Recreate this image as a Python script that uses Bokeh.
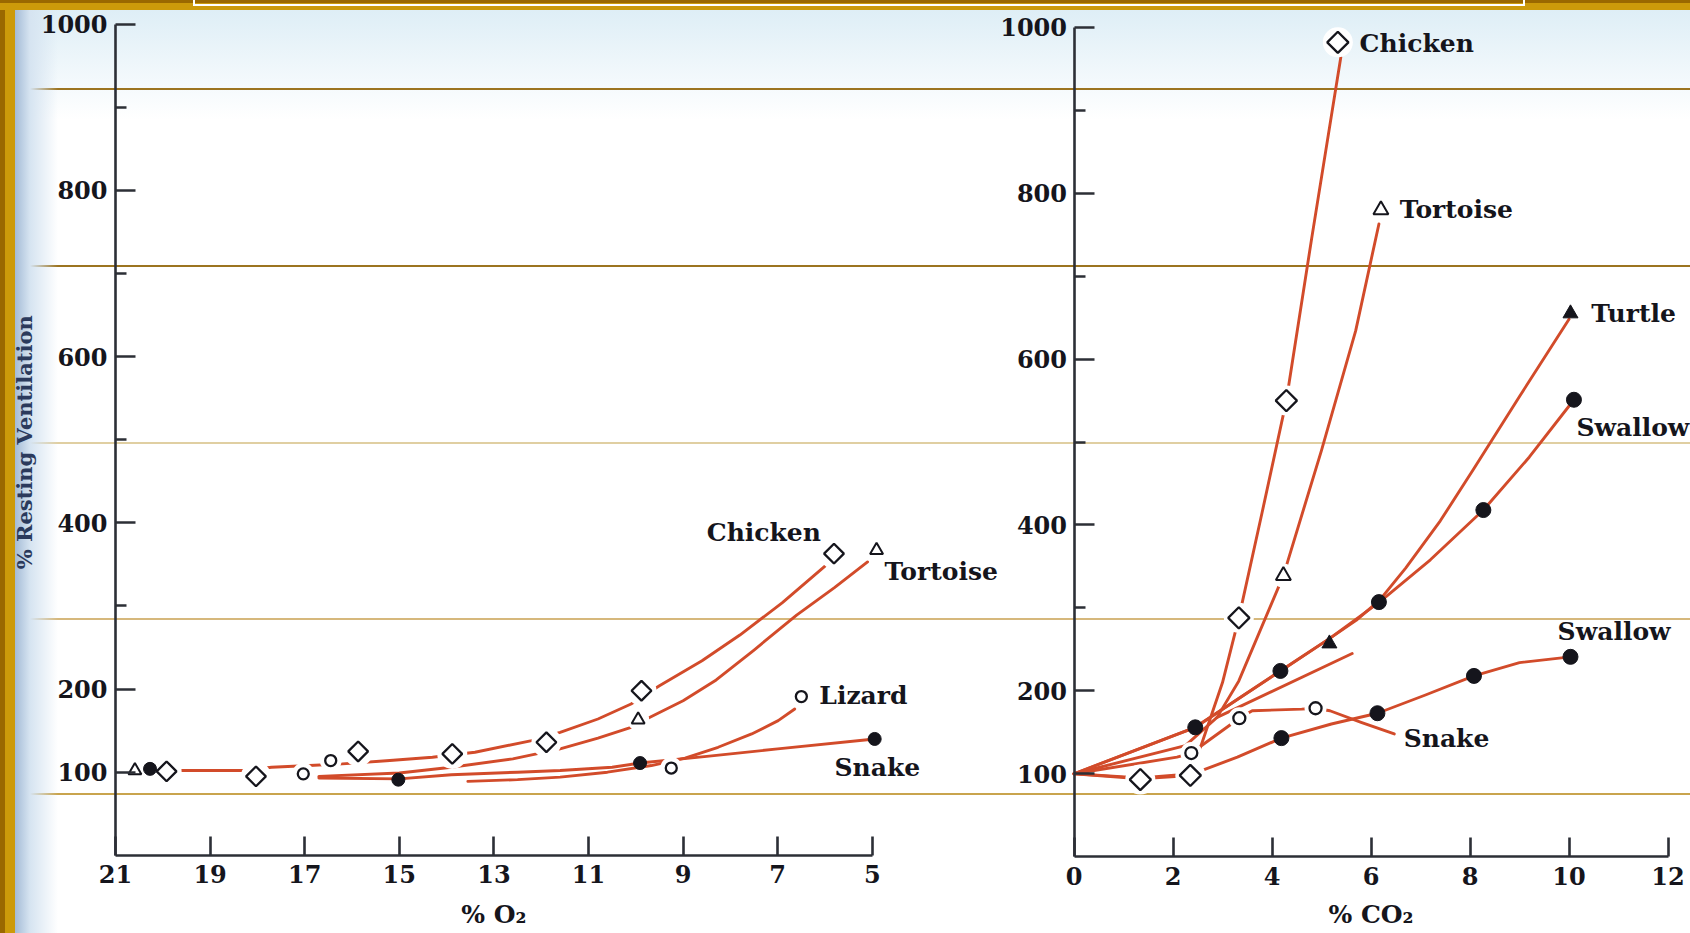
import numpy as np
from bokeh.plotting import figure
from bokeh.models import Range1d, FixedTicker, GlobalInlineStyleSheet
from bokeh.layouts import row
from bokeh.core.properties import value
from bokeh.embed import file_html
from bokeh.resources import INLINE

# ---------------- axes / ticks ----------------
o2_ticks = [21, 19, 17, 15, 13, 11, 9, 7, 5]
co2_ticks = [0, 2, 4, 6, 8, 10, 12]
vent_ticks = [100, 200, 400, 600, 800, 1000]
vent_minor = [300, 500, 700, 900]
vent_title = ["% Resting Ventilation"]

# ---------------- % O2 panel: measured points ----------------
o2_chicken_x = [19.92, 18.03, 15.87, 13.88, 11.89, 9.88, 5.81]
o2_chicken_y = [101, 95, 125, 122, 136, 198, 363]
o2_tortoise_x = [20.59, 9.95, 4.91]
o2_tortoise_y = [102, 163, 367]
o2_lizard_x = [17.03, 16.45, 9.25, 6.5]
o2_lizard_y = [98, 114, 105, 191]
o2_snake_x = [20.27, 15.02, 9.91, 4.95]
o2_snake_y = [104, 91, 111, 140]

# ---------------- % O2 panel: drawn curves ----------------
o2_chicken_curve_x = [20.6, 19.6, 18.3, 17.7, 16.9, 16.2, 15.2, 14.3, 13.4, 12.2, 11.6, 10.8, 10.1, 9.5, 8.6, 7.8, 6.9, 6.0]
o2_chicken_curve_y = [101, 102, 102, 106, 108, 110, 114, 118, 124, 138, 148, 164, 182, 204, 234, 265, 304, 348]
o2_tortoise_curve_x = [16.7, 15.0, 13.9, 12.6, 11.6, 10.8, 10.1, 9.7, 9.0, 8.3, 7.5, 6.6, 5.8, 5.1]
o2_tortoise_curve_y = [95, 99, 106, 116, 128, 141, 154, 166, 186, 211, 247, 289, 322, 353]
o2_lizard_curve_x = [13.55, 12.5, 11.6, 10.6, 9.67, 8.96, 8.26, 7.55, 6.99, 6.64]
o2_lizard_curve_y = [89, 91, 94, 100, 108, 117, 130, 146, 162, 176]
o2_snake_curve_x = [16.7, 15.0, 13.9, 12.5, 11.6, 10.5, 9.91, 8.5, 7.0, 4.95]
o2_snake_curve_y = [93, 92, 97, 100, 102, 106, 111, 119, 128, 140]

o2_label_text = ["Chicken", "Tortoise", "Lizard", "Snake"]
o2_label_x = [8.5, 4.74, 6.12, 5.8]
o2_label_y = [389, 341, 192, 106]
o2_title = ["% O₂"]

# ---------------- % CO2 panel: measured points ----------------
co2_chicken_x = [1.34, 2.35, 3.33, 4.29, 5.33]
co2_chicken_y = [93, 98, 288, 550, 982]
co2_tortoise_x = [4.23, 6.2]
co2_tortoise_y = [339, 780]
co2_turtle_x = [5.16, 10.03]
co2_turtle_y = [257, 655]
co2_swallow_hi_x = [2.45, 4.17, 6.16, 8.27, 10.1]
co2_swallow_hi_y = [156, 224, 307, 418, 551]
co2_swallow_lo_x = [4.19, 6.13, 8.08, 10.03]
co2_swallow_lo_y = [143, 173, 218, 241]
co2_snake_x = [2.37, 3.34, 4.88]
co2_snake_y = [125, 167, 179]

# ---------------- % CO2 panel: drawn curves ----------------
co2_chicken_curve_x = [0, 1.34, 2.35, 2.59, 3.0, 3.33, 3.8, 4.29, 4.8, 5.39]
co2_chicken_curve_y = [100, 94, 98, 138, 210, 288, 415, 550, 745, 964]
co2_tortoise_curve_x = [0, 2.25, 2.89, 3.33, 4.23, 5.0, 5.69, 6.16]
co2_tortoise_curve_y = [100, 134, 168, 212, 339, 490, 634, 763]
co2_turtle_curve_x = [0, 2.45, 4.17, 5.16, 5.7, 6.17, 6.7, 7.4, 8.08, 9.0, 10.0]
co2_turtle_curve_y = [100, 156, 224, 263, 285, 309, 348, 405, 468, 555, 648]
co2_swallow_hi_curve_x = [0, 2.45, 4.17, 5.16, 6.17, 7.2, 8.27, 9.2, 10.1]
co2_swallow_hi_curve_y = [100, 156, 224, 263, 307, 358, 418, 482, 551]
co2_swallow_lo_curve_x = [0, 1.34, 2.4, 3.3, 4.19, 5.2, 6.13, 7.1, 8.08, 9.0, 10.03]
co2_swallow_lo_curve_y = [100, 95, 100, 120, 143, 160, 173, 195, 218, 234, 241]
co2_snake_curve_x = [0, 2.08, 2.37, 3.34, 3.6, 4.6, 4.88, 5.17, 5.8, 6.47]
co2_snake_curve_y = [100, 120, 125, 167, 176, 178, 179, 176, 162, 148]
co2_other_curve_x = [2.89, 5.62]
co2_other_curve_y = [168, 245]

co2_label_text = ["Chicken", "Tortoise", "Turtle", "Swallow", "Swallow", "Snake"]
co2_label_x = [5.77, 6.58, 10.45, 10.15, 9.77, 6.66]
co2_label_y = [981, 781, 655, 518, 272, 143]
co2_title = ["% CO₂"]

# ---------------- styling ----------------
INK = "#15151c"
AXIS = "#2c2f36"
RED = "#d24b2a"
SERIF = "DejaVu Serif"

CSS = """
html { min-height: 100%; }
body {
  background-color: #ffffff;
  background-repeat: no-repeat;
  background-image:
    linear-gradient(#ffffff, #ffffff),
    linear-gradient(#ffffff, #ffffff),
    linear-gradient(#ffffff, #ffffff),
    linear-gradient(to bottom, #9a6800 0px, #9a6800 3px, #cc9a0a 3px, #cc9a0a 10px, rgba(255,255,255,0) 10px),
    linear-gradient(to right, #9a6800 0px, #9a6800 5px, #cc9a0a 5px, #cc9a0a 15px, #a4bbd6 15px, #d6e4f1 30px, rgba(255,255,255,0) 58px),
    linear-gradient(to bottom, rgba(0,0,0,0) 88px, #9c7420 88px, #9c7420 90px, rgba(0,0,0,0) 90px,
                    rgba(0,0,0,0) 265px, #9c7420 265px, #9c7420 267px, rgba(0,0,0,0) 267px,
                    rgba(0,0,0,0) 442px, #e0cfa2 442px, #e0cfa2 444px, rgba(0,0,0,0) 444px,
                    rgba(0,0,0,0) 618px, #d6b87c 618px, #d6b87c 620px, rgba(0,0,0,0) 620px,
                    rgba(0,0,0,0) 793px, #c9a44e 793px, #c9a44e 795px, rgba(0,0,0,0) 795px),
    linear-gradient(to bottom, rgba(222,238,246,1) 10px, rgba(255,255,255,0) 120px);
  background-size: 1332px 2px, 2px 6px, 2px 6px, 100% 100%, 100% 100%, 100% 100%, 100% 100%;
  background-position: 193px 4px, 193px 0px, 1523px 0px, 0 0, 0 0, 0 0, 0 0;
}
"""

H = 932


def make_fig(width, xr, yr, x0, y_standoff):
    # the frame fills the whole canvas; both axes sit at fixed data locations
    p = figure(width=width, height=H, x_range=xr, y_range=yr,
               output_backend="svg", toolbar_location=None,
               min_border_left=0, min_border_right=0, min_border_top=0,
               min_border_bottom=0,
               background_fill_color=None, border_fill_color=None,
               outline_line_color=None)
    p.grid.visible = False
    for ax in (p.xaxis[0], p.yaxis[0]):
        ax.axis_line_width = 2.6
        ax.axis_line_color = AXIS
        ax.major_tick_line_width = 2.6
        ax.major_tick_line_color = AXIS
        ax.major_tick_out = 0
        ax.major_label_text_font = SERIF
        ax.major_label_text_font_size = "24px"
        ax.major_label_text_font_style = "bold"
        ax.major_label_text_color = INK
    p.xaxis.fixed_location = 0
    p.yaxis.fixed_location = x0
    p.xaxis.major_tick_in = 19
    p.xaxis.minor_tick_line_color = None
    p.xaxis.major_label_standoff = 10
    p.yaxis.ticker = FixedTicker(ticks=vent_ticks, minor_ticks=vent_minor)
    p.yaxis.major_tick_in = 20
    p.yaxis.minor_tick_in = 11
    p.yaxis.minor_tick_out = 0
    p.yaxis.minor_tick_line_width = 2.6
    p.yaxis.minor_tick_line_color = AXIS
    p.yaxis.bounds = (0, 1000)
    p.yaxis.major_label_standoff = y_standoff
    return p


MARKS = {
    "diamond": dict(marker="square", angle=np.pi / 4, fill_color="white", line_color=INK, line_width=2.3),
    "otri": dict(marker="triangle", fill_color="white", line_color=INK, line_width=2.0),
    "ocirc": dict(marker="circle", fill_color="white", line_color=INK, line_width=2.3),
    "dot": dict(marker="circle", fill_color=INK, line_color=INK, line_width=1),
    "ftri": dict(marker="triangle", fill_color=INK, line_color=INK, line_width=1),
}


def draw(p, curves, points, labels, title, title_xy):
    for cx, cy in curves:
        p.line(cx, cy, line_color=RED, line_width=2.9, line_join="round", line_cap="round")
    for xs, ys, kind, size, halo in points:
        if halo:
            p.scatter(xs, ys, marker="circle", size=halo, fill_color="white", line_color=None)
    for xs, ys, kind, size, halo in points:
        p.scatter(xs, ys, size=size, **MARKS[kind])
    tx, ty, tt = labels
    p.text(x=tx, y=ty, text=tt, text_font=value(SERIF), text_font_size=value("25px"),
           text_font_style="bold", text_align="left", text_baseline="middle", text_color=INK)
    p.text(x=[title_xy[0]], y=[title_xy[1]], text=title, text_font=value(SERIF),
           text_font_size=value("25px"), text_font_style="bold", text_align="center",
           text_baseline="middle", text_color=INK)


# ---------------- left panel: % O2 ----------------
# pixel scale: 47.3 px per % O2, 0.8311 px per % ventilation; axis corner at (115, 854.8)
p1 = make_fig(1000, Range1d(21 + 115 / 47.3, 21 - 885 / 47.3),
              Range1d(-(H - 854.8) / 0.8311, 854.8 / 0.8311), 21, 8)
p1.xaxis.ticker = FixedTicker(ticks=o2_ticks)
p1.xaxis.bounds = (5, 21)

draw(p1,
     [(o2_chicken_curve_x, o2_chicken_curve_y), (o2_tortoise_curve_x, o2_tortoise_curve_y),
      (o2_lizard_curve_x, o2_lizard_curve_y), (o2_snake_curve_x, o2_snake_curve_y)],
     [(o2_chicken_x, o2_chicken_y, "diamond", 14, 30),
      (o2_tortoise_x, o2_tortoise_y, "otri", 13, 22),
      (o2_lizard_x, o2_lizard_y, "ocirc", 11, 22),
      (o2_snake_x, o2_snake_y, "dot", 13, 0)],
     (o2_label_x, o2_label_y, o2_label_text),
     o2_title, (13.0, -71.5))
p1.text(x=[21 + 91 / 47.3], y=[497], text=vent_title, angle=np.pi / 2,
        text_font=value(SERIF), text_font_size=value("21px"), text_font_style="bold",
        text_align="center", text_baseline="middle", text_color="#2b3a5c")

# ---------------- right panel: % CO2 ----------------
# pixel scale: 49.5 px per % CO2, 0.8293 px per % ventilation; axis corner at (1073.5, 856.2)
p2 = make_fig(690, Range1d(-73.5 / 49.5, 616.5 / 49.5),
              Range1d(-(H - 856.2) / 0.8293, 856.2 / 0.8293), 0, 7)
p2.xaxis.ticker = FixedTicker(ticks=co2_ticks)
p2.xaxis.bounds = (0, 12)

draw(p2,
     [(co2_chicken_curve_x, co2_chicken_curve_y), (co2_tortoise_curve_x, co2_tortoise_curve_y),
      (co2_turtle_curve_x, co2_turtle_curve_y), (co2_swallow_hi_curve_x, co2_swallow_hi_curve_y),
      (co2_swallow_lo_curve_x, co2_swallow_lo_curve_y), (co2_snake_curve_x, co2_snake_curve_y),
      (co2_other_curve_x, co2_other_curve_y)],
     [(co2_chicken_x, co2_chicken_y, "diamond", 15, 30),
      (co2_tortoise_x, co2_tortoise_y, "otri", 15, 24),
      (co2_snake_x, co2_snake_y, "ocirc", 12, 22),
      (co2_turtle_x, co2_turtle_y, "ftri", 15, 0),
      (co2_swallow_hi_x, co2_swallow_hi_y, "dot", 15, 0),
      (co2_swallow_lo_x, co2_swallow_lo_y, "dot", 15, 0)],
     (co2_label_x, co2_label_y, co2_label_text),
     co2_title, (6.0, -70))

layout = row(p1, p2, stylesheets=[GlobalInlineStyleSheet(css=CSS)])

open("out.html", "w").write(file_html(layout, INLINE))
